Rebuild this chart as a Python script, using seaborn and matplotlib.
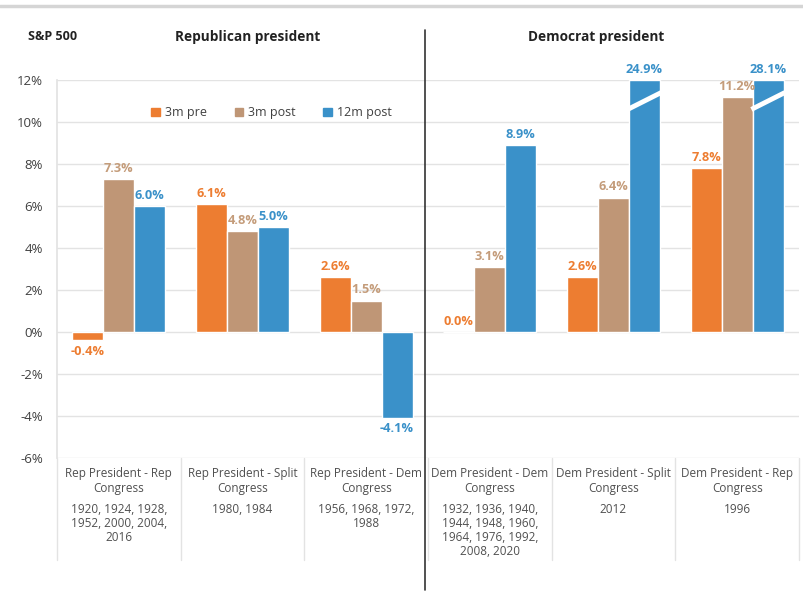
import numpy as np
import pandas as pd
import seaborn as sns
import matplotlib.pyplot as plt
import matplotlib.transforms as mtransforms
from matplotlib.lines import Line2D

categories = ["Rep President - Rep\nCongress", "Rep President - Split\nCongress",
              "Rep President - Dem\nCongress", "Dem President - Dem\nCongress",
              "Dem President - Split\nCongress", "Dem President - Rep\nCongress"]
years = ["1920, 1924, 1928,\n1952, 2000, 2004,\n2016", "1980, 1984",
         "1956, 1968, 1972,\n1988", "1932, 1936, 1940,\n1944, 1948, 1960,\n1964, 1976, 1992,\n2008, 2020",
         "2012", "1996"]
pre_3m = [-0.4, 6.1, 2.6, 0.0, 2.6, 7.8]
post_3m = [7.3, 4.8, 1.5, 3.1, 6.4, 11.2]
post_12m = [6.0, 5.0, -4.1, 8.9, 24.9, 28.1]
series = ["3m pre", "3m post", "12m post"]
y_ticks = [-6, -4, -2, 0, 2, 4, 6, 8, 10, 12]

bar_colors = ["#ED7D31", "#BF9676", "#3A91C9"]
label_colors = ["#ED7D31", "#C49C7A", "#3A91C9"]
y_cap = 12

sns.set_theme(style="white")
plt.rcParams['font.family'] = ['Open Sans', 'DejaVu Sans']

rows = []
for name, vals in zip(series, [pre_3m, post_3m, post_12m]):
    for k, v in enumerate(vals):
        rows.append({"cat": k, "period": name, "value": v, "shown": min(v, y_cap)})
df = pd.DataFrame(rows)

fig = plt.figure(figsize=(8.04, 6.0), dpi=100)
ax = fig.add_axes([57/804, 1-458/600, 742/804, 378/600])

sns.barplot(data=df, x="cat", y="shown", hue="period", hue_order=series,
            palette=bar_colors, width=0.75, saturation=1, ax=ax, zorder=3,
            legend=False)

ax.set_ylim(-6, 12)
ax.set_xlim(-0.5, 5.5)
ax.set_yticks(y_ticks)
ax.set_yticklabels([f"{t}%" for t in y_ticks], fontsize=9.5, color="#404040")
ax.tick_params(axis="y", length=0, pad=10)
ax.set_xticks([])
ax.set_xlabel("")
ax.set_ylabel("")
ax.grid(axis="y", color="#e3e3e3", linewidth=1, zorder=0)
for s in ["top", "right", "bottom"]:
    ax.spines[s].set_visible(False)
ax.spines["left"].set_color("#e3e3e3")

# value labels
for i, cont in enumerate(ax.containers):
    vals = [pre_3m, post_3m, post_12m][i]
    ax.bar_label(cont, labels=[f"{v:.1f}%" for v in vals], padding=3,
                 color=label_colors[i], fontsize=9.2, fontweight="bold")
    # break marks on truncated bars
    for bar, v in zip(cont.patches, vals):
        if v > y_cap:
            x0 = bar.get_x()
            x1 = x0 + bar.get_width()
            ax.plot([x0 - 0.01, x1 + 0.01], [10.6, 11.4], color="white",
                    linewidth=3.5, zorder=4, solid_capstyle="butt")

# legend
handles = [plt.Rectangle((0, 0), 1, 1, color=c) for c in bar_colors]
ax.legend(handles, series, loc="center left", bbox_to_anchor=(0.112, 0.913),
          ncol=3, frameon=False, fontsize=9, handlelength=0.7, handleheight=0.7,
          handletextpad=0.4, columnspacing=2.2, labelcolor="#404040")

# category table below the axis
trans = mtransforms.blended_transform_factory(ax.transData, ax.transAxes)
for k in range(len(categories)):
    ax.text(k, -0.025, categories[k], transform=trans, ha="center", va="top",
            fontsize=8.5, color="#505050", linespacing=1.15)
    ax.text(k, -0.118, years[k], transform=trans, ha="center", va="top",
            fontsize=8.5, color="#505050", linespacing=1.1)
for xb in np.arange(-0.5, 6, 1.0):
    ax.plot([xb, xb], [0, -0.27], transform=trans, color="#e3e3e3",
            linewidth=1, clip_on=False)

# divider and headers
fig.add_artist(Line2D([425/804, 425/804], [1-30/600, 1-590/600],
                      color="#333333", linewidth=1.2))
fig.add_artist(Line2D([0, 1], [1-6/600, 1-6/600], color="#d5d5d5", linewidth=2.5))
fig.text(28/804, 1-37/600, "S&P 500", fontsize=9, fontweight="bold",
         color="#222222", va="center")
fig.text(248/804, 1-37/600, "Republican president", fontsize=9.8,
         fontweight="bold", color="#222222", va="center", ha="center")
fig.text(596/804, 1-37/600, "Democrat president", fontsize=9.8,
         fontweight="bold", color="#222222", va="center", ha="center")

fig.savefig("out.png", dpi=100)
